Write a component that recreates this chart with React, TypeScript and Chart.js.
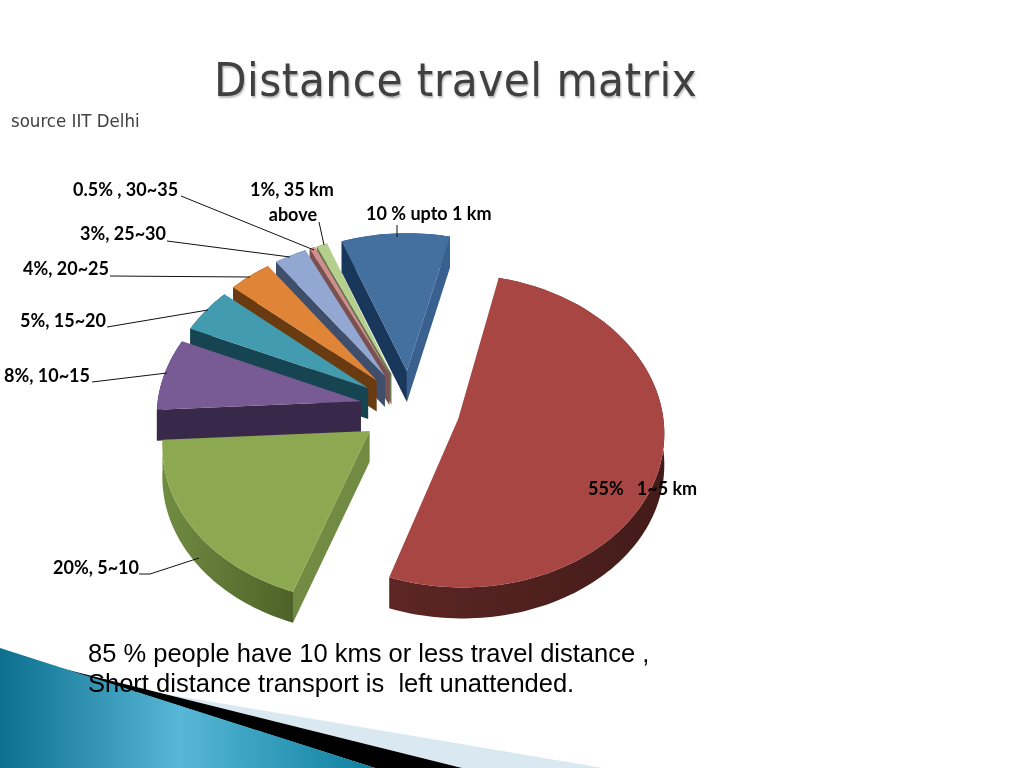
import React, { useEffect, useRef } from "react";
import { Chart, registerables } from "chart.js";

Chart.register(...registerables);

// ---- data ----
const categories = ["upto 1 km", "1~5 km", "5~10", "10~15", "15~20", "20~25", "25~30", "30~35", "35 km above"];
const shares = [10, 55, 20, 8, 5, 4, 3, 0.5, 1];
const titleText = "Distance travel matrix";
const sourceText = "source IIT Delhi";
const noteLines = ["85 % people have 10 kms or less travel distance ,", "Short distance transport is  left unattended."];

// ---- styles ----
const topColors = ["#44709f", "#a84644", "#8ca850", "#785b94", "#439bb0", "#e08537", "#92a8d2", "#d08f8d", "#b5cf8c"];
const startWallColors = ["#18375a", "#4a1f1d", "#718b42", "#38294b", "#174451", "#6a3b10", "#3f4f6b", "#7a5050", "#66744f"];
const endWallColors = ["#3a6090", "#4a1f1d", "#718b42", "#38294b", "#174451", "#6a3b10", "#3f4f6b", "#7a5050", "#66744f"];
const rimLeft = ["#3a6090", "#5c2624", "#708c42", "#38294b", "#174451", "#6a3b10", "#3f4f6b", "#7a5050", "#66744f"];
const rimRight = ["#3a6090", "#431b19", "#4d6228", "#38294b", "#174451", "#6a3b10", "#3f4f6b", "#7a5050", "#66744f"];

// ---- label layout ----
const labelTexts = [
  ["10 % upto 1 km"], ["55%   1~5 km"], ["20%, 5~10"], ["8%, 10~15"], ["5%, 15~20"],
  ["4%, 20~25"], ["3%, 25~30"], ["0.5% , 30~35"], ["1%, 35 km", "above"],
];
const labelAnchors: [number, number][] = [
  [366, 220], [588, 495], [53, 574], [4, 382], [20, 327], [23, 275], [80, 240], [73, 196], [250, 196],
];
const leaderLines: [number, number][][] = [
  [[397, 225], [397, 237]],
  [],
  [[139, 574], [150, 574], [199, 558]],
  [[92, 382], [167, 373]],
  [[107, 327], [208, 310]],
  [[110, 276], [250, 277]],
  [[167, 241], [290, 257]],
  [[181, 196], [314, 250]],
  [[319, 222], [324, 245]],
];

const PERSP = 0.00038;
const TILT = 0.755;
const DEPTH = 31;
const EXPLODE = 50;

type Pt = [number, number];

const pie3d = {
  id: "pie3d",
  beforeDatasetsDraw(chart: any) {
    const ctx: CanvasRenderingContext2D = chart.ctx;
    const arcs = chart.getDatasetMeta(0).data as any[];
    const cx = arcs[0].x;
    const cy = arcs[0].y;
    const proj = (X: number, Y: number, z: number): Pt => {
      const s = 1 / (1 + PERSP * Y);
      return [cx + X * s, cy - Y * TILT * s + z];
    };
    const fillPoly = (pts: Pt[], fill: any) => {
      ctx.beginPath();
      pts.forEach((p, i) => (i ? ctx.lineTo(p[0], p[1]) : ctx.moveTo(p[0], p[1])));
      ctx.closePath();
      ctx.fillStyle = fill;
      ctx.fill();
    };
    // a radial wall shows only when moving its edge down takes it out of the top face
    const wallShows = (apex: Pt, corner: Pt, inner: Pt) => {
      const ex = corner[0] - apex[0];
      const ey = corner[1] - apex[1];
      const sideInner = ex * (inner[1] - apex[1]) - ey * (inner[0] - apex[0]);
      const sideDown = ex;
      return sideInner * sideDown < 0;
    };
    const order = [8, 7, 6, 5, 4, 3, 2, 0, 1];
    ctx.save();
    for (const i of order) {
      const a = arcs[i];
      const mid = (a.startAngle + a.endAngle) / 2;
      const off = a.options.offset;
      const ox = Math.cos(mid) * off;
      const oy = -Math.sin(mid) * off;
      const n = Math.max(4, Math.ceil((a.endAngle - a.startAngle) * 40));
      const top: Pt[] = [];
      const bot: Pt[] = [];
      for (let j = 0; j <= n; j++) {
        const t = a.startAngle + ((a.endAngle - a.startAngle) * j) / n;
        const X = ox + Math.cos(t) * a.outerRadius;
        const Y = oy - Math.sin(t) * a.outerRadius;
        top.push(proj(X, Y, 0));
        bot.push(proj(X, Y, DEPTH));
      }
      const apexTop = proj(ox, oy, 0);
      const apexBot = proj(ox, oy, DEPTH);
      const inner = top[Math.floor(n / 2)];
      const xs = top.map((p) => p[0]);
      const g = ctx.createLinearGradient(Math.min(...xs), 0, Math.max(...xs), 0);
      g.addColorStop(0, rimLeft[i]);
      g.addColorStop(1, rimRight[i]);
      fillPoly([...top, ...bot.slice().reverse()], g);
      if (wallShows(apexTop, top[0], inner)) fillPoly([apexTop, top[0], bot[0], apexBot], startWallColors[i]);
      if (wallShows(apexTop, top[n], inner)) fillPoly([apexTop, top[n], bot[n], apexBot], endWallColors[i]);
      fillPoly([apexTop, ...top], topColors[i]);
    }
    ctx.restore();
    return false;
  },
  afterDraw(chart: any) {
    const ctx: CanvasRenderingContext2D = chart.ctx;
    ctx.save();
    ctx.strokeStyle = "#111";
    ctx.lineWidth = 1;
    leaderLines.forEach((l) => {
      if (!l.length) return;
      ctx.beginPath();
      l.forEach((p, i) => (i ? ctx.lineTo(p[0], p[1]) : ctx.moveTo(p[0], p[1])));
      ctx.stroke();
    });
    ctx.fillStyle = "#000";
    ctx.font = "bold 18px Lato";
    ctx.textBaseline = "alphabetic";
    labelTexts.forEach((lines, i) => {
      const [x, y] = labelAnchors[i];
      lines.forEach((t, j) => {
        const w = ctx.measureText(t).width;
        const dx = lines.length > 1 && j === 1 ? 67 - w : 0;
        ctx.fillText(t, x + dx, y + j * 25);
      });
    });
    ctx.restore();
  },
};

export default function App() {
  const ref = useRef<HTMLCanvasElement>(null);
  useEffect(() => {
    const chart = new Chart(ref.current as HTMLCanvasElement, {
      type: "pie",
      data: {
        labels: categories,
        datasets: [{ data: shares, backgroundColor: topColors, borderWidth: 0, offset: EXPLODE }],
      },
      options: {
        responsive: false,
        animation: false,
        rotation: -20.5,
        layout: { padding: { top: 179, bottom: 131, left: 181, right: 385 } },
        plugins: { legend: { display: false }, tooltip: { enabled: false }, title: { display: false } },
      },
      plugins: [pie3d as any],
    } as any);
    return () => chart.destroy();
  }, []);

  return (
    <div style={{ position: "absolute", left: 0, top: 0, width: 1024, height: 768, overflow: "hidden", background: "#fff" }}>
      <svg width={1024} height={768} style={{ position: "absolute", left: 0, top: 0 }}>
        <defs>
          <linearGradient id="teal" gradientUnits="userSpaceOnUse" x1="0" y1="0" x2="375" y2="0">
            <stop offset="0" stopColor="#0b6f8d" />
            <stop offset="0.48" stopColor="#58b7d6" />
            <stop offset="1" stopColor="#0c7f9f" />
          </linearGradient>
        </defs>
        <polygon points="165,694 603,768 462,768" fill="#d9e8f1" />
        <polygon points="60,668 462,768 375,768" fill="#000" />
        <polygon points="0,648 375,768 0,768" fill="url(#teal)" />
      </svg>
      <canvas ref={ref} width={1024} height={768} style={{ position: "absolute", left: 0, top: 0 }} />
      <div style={{ position: "absolute", left: 214, top: 52, fontFamily: "'DejaVu Sans Condensed','DejaVu Sans'", fontSize: 47, letterSpacing: 0.5, lineHeight: "56px", color: "#404040", textShadow: "1px 2px 2px #bbb", whiteSpace: "nowrap" }}>
        {titleText}
      </div>
      <div style={{ position: "absolute", left: 11, top: 110, fontFamily: "'DejaVu Sans Condensed','DejaVu Sans'", fontSize: 18.5, lineHeight: "22px", color: "#404040", whiteSpace: "nowrap" }}>
        {sourceText}
      </div>
      <div style={{ position: "absolute", left: 88, top: 638, fontFamily: "'Liberation Sans'", fontSize: 25.5, lineHeight: "30px", color: "#000", whiteSpace: "pre" }}>
        {noteLines.join("\n")}
      </div>
    </div>
  );
}
